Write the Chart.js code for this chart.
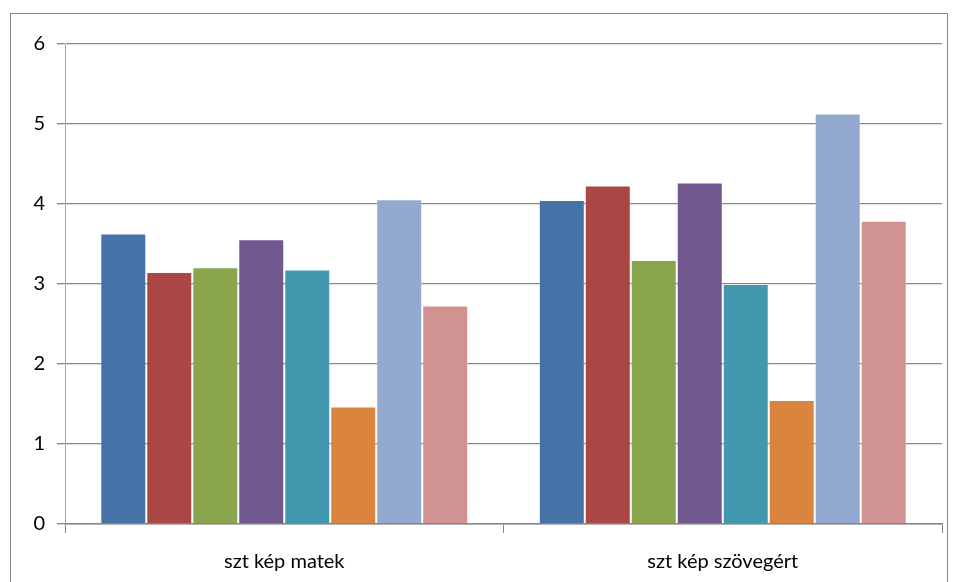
<!DOCTYPE html>
<html>
<head>
<meta charset="utf-8">
<script src="https://cdn.jsdelivr.net/npm/chart.js@4"></script>
<style>
    html, body { margin: 0; padding: 0; background: #ffffff; }
    #wrap { width: 958px; height: 582px; position: relative; }
</style>
</head>
<body>
<div id="wrap"><canvas id="grafico" width="958" height="582"></canvas></div>
<script>
"use strict";

// Kategóriák és sorozatok
const kategoriak = ["szt kép matek", "szt kép szövegért"];

const sor1 = [3.63, 4.05];
const sor2 = [3.15, 4.23];
const sor3 = [3.21, 3.30];
const sor4 = [3.56, 4.27];
const sor5 = [3.18, 3.00];
const sor6 = [1.47, 1.55];
const sor7 = [4.06, 5.13];
const sor8 = [2.73, 3.79];

const sorok = [sor1, sor2, sor3, sor4, sor5, sor6, sor7, sor8];

const szinek = [
    "#4573a7", "#aa4643", "#89a54e", "#71588f",
    "#4198af", "#db843d", "#93a9cf", "#d19392"
];

const yMin = 0;
const yMax = 6;
const yLepes = 1;

const betu = "Lato, 'Open Sans', sans-serif";

// külső keret a diagram körül
const keret = {
    id: "keret",
    beforeDraw(chart) {
        const ctx = chart.ctx;
        ctx.save();
        ctx.fillStyle = "#ffffff";
        ctx.fillRect(0, 0, chart.width, chart.height);
        ctx.strokeStyle = "#868686";
        ctx.lineWidth = 1;
        ctx.strokeRect(10.5, 13.5, 937, 620);
        ctx.restore();
    }
};

const canvas = document.getElementById("grafico");

new Chart(canvas, {
    type: "bar",
    data: {
        labels: kategoriak,
        datasets: sorok.map((adat, i) => ({
            label: "Sorozat " + (i + 1),
            data: adat,
            backgroundColor: szinek[i],
            borderColor: "rgba(255,255,255,0.3)",
            borderWidth: 1,
            categoryPercentage: 0.839,
            barPercentage: 1.0
        }))
    },
    options: {
        responsive: false,
        animation: false,
        devicePixelRatio: 1,
        layout: {
            padding: { left: 0, top: 44, right: 16, bottom: 0 }
        },
        plugins: {
            legend: { display: false },
            tooltip: { enabled: false }
        },
        scales: {
            x: {
                afterFit(scale) { scale.height = 58; },
                grid: {
                    offset: true,
                    drawOnChartArea: false,
                    drawTicks: true,
                    tickLength: 9,
                    color: "#868686",
                    lineWidth: 1
                },
                border: { color: "#868686", width: 1.5 },
                ticks: {
                    color: "#000000",
                    font: { family: betu, size: 20 },
                    padding: 17,
                    maxRotation: 0
                }
            },
            y: {
                min: yMin,
                max: yMax,
                afterFit(scale) { scale.width = 65; },
                grid: {
                    color: "#868686",
                    lineWidth: 1.3,
                    tickLength: 8
                },
                border: { color: "#a6a6a6", width: 1 },
                ticks: {
                    stepSize: yLepes,
                    color: "#000000",
                    font: { family: betu, size: 20 },
                    padding: 12
                }
            }
        }
    },
    plugins: [keret]
});
</script>
</body>
</html>
